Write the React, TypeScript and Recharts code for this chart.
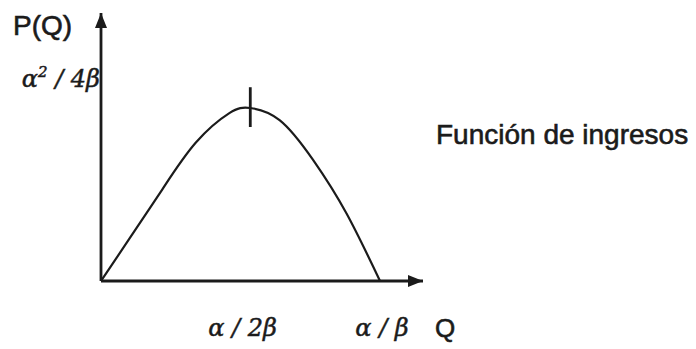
import React from 'react';
import {
  ComposedChart,
  Line,
  XAxis,
  YAxis,
  ReferenceLine,
  ReferenceDot,
  Legend,
} from 'recharts';

// quantity Q (alpha/beta = 1) and revenue P(Q) (alpha^2/4beta = 1)
const quantity = [0, 0.1, 0.22, 0.34, 0.46, 0.535, 0.64, 0.76, 0.88, 1];
const revenue = [0, 0.24, 0.53, 0.8, 0.97, 1, 0.93, 0.7, 0.39, 0];

const xTicks = [0.5, 1];
const xTickLabels = ['α / 2β', 'α / β'];
const yTicks = [1];
const peakQ = 0.535;
const xAxisEnd = 1.154;
const yAxisTop = 1.549;

const data = quantity.map((q, i) => ({ q, p: revenue[i] }));

const INK = '#1b1b1b';
const SANS = '"Liberation Sans", Arial, sans-serif';
const GREEK = '"DejaVu Serif", "Liberation Serif", serif';

const XTick = ({ x, y, payload }: any) => {
  const idx = xTicks.indexOf(payload.value);
  return (
    <text
      x={x + 2}
      y={y + 55}
      textAnchor="middle"
      fontFamily={GREEK}
      fontStyle="italic"
      fontSize={24}
      fill={INK}
      stroke={INK}
      strokeWidth={0.5}
    >
      {xTickLabels[idx]}
    </text>
  );
};

const YTick = ({ x, y }: any) => (
  <text
    x={x - 1}
    y={y - 21}
    textAnchor="end"
    fontFamily={GREEK}
    fontStyle="italic"
    fontSize={24}
    fill={INK}
    stroke={INK}
    strokeWidth={0.5}
  >
    <tspan>α</tspan>
    <tspan dy={-10} fontSize={15}>2</tspan>
    <tspan dy={10}> / 4β</tspan>
  </text>
);

const RightArrow = ({ cx, cy }: any) => (
  <path d={`M${cx},${cy} L${cx - 15},${cy - 6} L${cx - 15},${cy + 6} Z`} fill={INK} />
);

const UpArrow = ({ cx, cy }: any) => (
  <path d={`M${cx},${cy} L${cx - 6},${cy + 15} L${cx + 6},${cy + 15} Z`} fill={INK} />
);

export default function App() {
  return (
    <div style={{ position: 'absolute', left: 0, top: 0, background: '#fff' }}>
      <ComposedChart width={696} height={349} data={data} margin={{ top: 13, right: 273, bottom: 8, left: 11 }}>
        <XAxis
          dataKey="q"
          type="number"
          domain={[0, xAxisEnd]}
          ticks={xTicks}
          tick={<XTick />}
          tickLine={false}
          tickSize={0}
          tickMargin={0}
          allowDataOverflow
          height={60}
          axisLine={{ stroke: INK, strokeWidth: 2.8 }}
          label={{
            content: ({ viewBox }: any) => (
              <text
                x={viewBox.x + viewBox.width + 12}
                y={viewBox.y + 56}
                fontFamily={SANS}
                fontSize={26}
                fill={INK}
                stroke={INK}
                strokeWidth={0.6}
              >
                Q
              </text>
            ),
          }}
        />
        <YAxis
          type="number"
          domain={[0, yAxisTop]}
          ticks={yTicks}
          tick={<YTick />}
          tickLine={false}
          tickSize={0}
          tickMargin={0}
          allowDataOverflow
          width={90}
          axisLine={{ stroke: INK, strokeWidth: 2.8 }}
          label={{
            content: ({ viewBox }: any) => (
              <text
                x={viewBox.x + 2}
                y={viewBox.y + 22}
                fontFamily={SANS}
                fontSize={28}
                fill={INK}
                stroke={INK}
                strokeWidth={0.6}
              >
                P(Q)
              </text>
            ),
          }}
        />
        <Legend
          layout="horizontal"
          verticalAlign="middle"
          align="center"
          wrapperStyle={{ left: 436, top: 121, width: 'auto' }}
          content={() => (
            <div
              style={{
                fontFamily: SANS,
                fontSize: 28,
                lineHeight: '28px',
                color: INK,
                whiteSpace: 'nowrap',
                WebkitTextStroke: `0.6px ${INK}`,
              }}
            >
              Función de ingresos
            </div>
          )}
        />
        <Line
          type="natural"
          dataKey="p"
          stroke={INK}
          strokeWidth={2.2}
          dot={false}
          isAnimationActive={false}
        />
        <ReferenceLine
          segment={[{ x: peakQ, y: 1.12 }, { x: peakQ, y: 0.89 }]}
          stroke={INK}
          strokeWidth={2.8}
        />
        <ReferenceDot x={xAxisEnd} y={0} r={0} shape={<RightArrow />} />
        <ReferenceDot x={0} y={yAxisTop} r={0} shape={<UpArrow />} />
      </ComposedChart>
    </div>
  );
}
